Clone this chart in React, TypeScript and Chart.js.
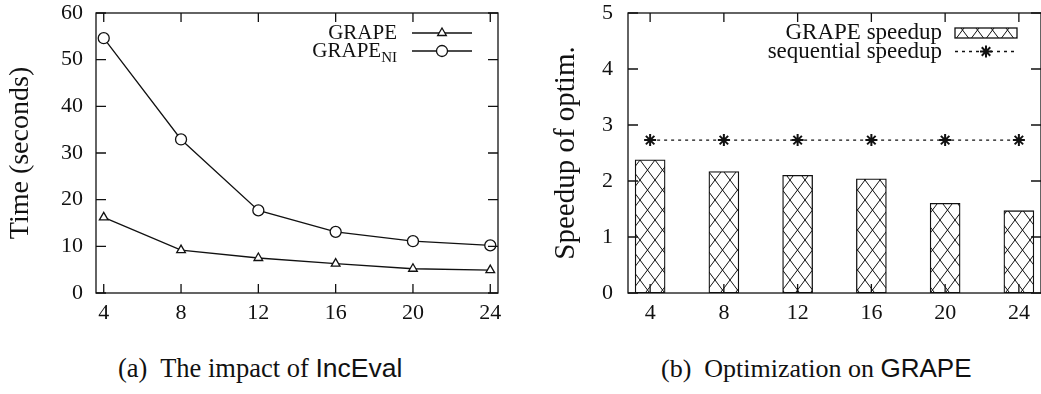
import React, { useEffect, useRef } from 'react';
import { Chart, registerables } from 'chart.js';
import { drawPoint } from 'chart.js/helpers';

Chart.register(...registerables);

// ---- data ----
const threads = [4, 8, 12, 16, 20, 24];
const grapeTime = [16.2, 9.2, 7.5, 6.3, 5.2, 4.9];
const grapeNITime = [54.6, 32.9, 17.7, 13.1, 11.1, 10.2];
const timeTicks = [0, 10, 20, 30, 40, 50, 60];
const grapeSpeedup = [2.38, 2.17, 2.1, 2.04, 1.6, 1.47];
const sequentialSpeedup = [2.73, 2.73, 2.73, 2.73, 2.73, 2.73];
const speedupTicks = [0, 1, 2, 3, 4, 5];
const timeSeriesNames = ['GRAPE', 'GRAPE_NI'];
const speedupSeriesNames = ['GRAPE speedup', 'sequential speedup'];

const SERIF = '"Liberation Serif", "Times New Roman", serif';
const SANS = '"Liberation Sans", Arial, sans-serif';
const INK = '#111';

function makeHatch(): CanvasPattern | string {
  const c = document.createElement('canvas');
  c.width = 15;
  c.height = 20;
  const g = c.getContext('2d');
  if (!g) return '#fff';
  g.fillStyle = '#fff';
  g.fillRect(0, 0, 15, 20);
  g.strokeStyle = INK;
  g.lineWidth = 1;
  g.beginPath();
  for (let k = -1; k <= 1; k++) {
    g.moveTo(k * 15, 0);
    g.lineTo(k * 15 + 15, 20);
    g.moveTo(k * 15 + 15, 0);
    g.lineTo(k * 15, 20);
  }
  g.stroke();
  return g.createPattern(c, 'repeat') || '#fff';
}

const framePlugin = {
  id: 'frame',
  afterDatasetsDraw(chart: any) {
    const { ctx, chartArea: a, scales } = chart;
    const xs = scales.x;
    const ys = scales.y;
    ctx.save();
    ctx.strokeStyle = INK;
    ctx.lineWidth = 1.3;
    ctx.beginPath();
    xs.ticks.forEach((t: any) => {
      const p = xs.getPixelForValue(t.value);
      ctx.moveTo(p, a.bottom);
      ctx.lineTo(p, a.bottom - 9);
      ctx.moveTo(p, a.top);
      ctx.lineTo(p, a.top + 9);
    });
    ys.ticks.forEach((t: any) => {
      const p = ys.getPixelForValue(t.value);
      ctx.moveTo(a.left, p);
      ctx.lineTo(a.left + 10, p);
      ctx.moveTo(a.right, p);
      ctx.lineTo(a.right - 10, p);
    });
    ctx.stroke();
    ctx.strokeRect(a.left, a.top, a.right - a.left, a.bottom - a.top);
    ctx.restore();
  },
};

const insideLegend = {
  id: 'insideLegend',
  afterDraw(chart: any, _args: any, opts: any) {
    const { ctx } = chart;
    ctx.save();
    chart.data.datasets.forEach((ds: any, i: number) => {
      const y = opts.rows[i];
      const parts = String(ds.label).split('_');
      const main = parts[0];
      const sub = parts[1];
      const mainFont = `${opts.size}px ${SERIF}`;
      const subFont = `${Math.round(opts.size * 0.72)}px ${SERIF}`;
      ctx.textBaseline = 'middle';
      ctx.textAlign = 'left';
      ctx.fillStyle = INK;
      ctx.font = mainFont;
      const wMain = ctx.measureText(main).width;
      let wSub = 0;
      if (sub) {
        ctx.font = subFont;
        wSub = ctx.measureText(sub).width;
      }
      const x0 = opts.textRight - wMain - wSub;
      ctx.font = mainFont;
      ctx.fillText(main, x0, y);
      if (sub) {
        ctx.font = subFont;
        ctx.fillText(sub, x0 + wMain, y + opts.size * 0.32);
      }
      if (ds.type === 'bar') {
        ctx.fillStyle = ds.backgroundColor;
        ctx.fillRect(opts.x1, y - 5, opts.x2 - opts.x1, 10);
        ctx.strokeStyle = ds.borderColor;
        ctx.lineWidth = ds.borderWidth;
        ctx.strokeRect(opts.x1, y - 5, opts.x2 - opts.x1, 10);
      } else {
        ctx.strokeStyle = ds.borderColor;
        ctx.lineWidth = ds.borderWidth;
        ctx.setLineDash(ds.borderDash || []);
        ctx.beginPath();
        ctx.moveTo(opts.x1, y);
        ctx.lineTo(opts.x2, y);
        ctx.stroke();
        ctx.setLineDash([]);
        ctx.fillStyle = ds.pointBackgroundColor;
        ctx.strokeStyle = ds.pointBorderColor;
        ctx.lineWidth = ds.pointBorderWidth;
        drawPoint(
          ctx,
          { pointStyle: ds.pointStyle, radius: ds.pointRadius, rotation: 0, borderWidth: ds.pointBorderWidth } as any,
          (opts.x1 + opts.x2) / 2,
          y
        );
      }
    });
    ctx.restore();
  },
};

const tickFont = { family: SERIF, size: 22 };

function xAxis(min: number, max: number): any {
  return {
    type: 'linear',
    min,
    max,
    offset: false,
    afterBuildTicks: (s: any) => {
      s.ticks = threads.map((v) => ({ value: v }));
    },
    afterFit: (s: any) => {
      s.height = 37;
      s.paddingLeft = 0;
      s.paddingRight = 0;
    },
    grid: { display: false, drawTicks: false },
    border: { display: false },
    ticks: { font: tickFont, color: INK, padding: 7, maxRotation: 0, autoSkip: false },
  };
}

function yAxis(min: number, max: number, tickVals: number[], width: number, pad: number, title: string, titleSize: number, titlePad: number): any {
  return {
    min,
    max,
    afterBuildTicks: (s: any) => {
      s.ticks = tickVals.map((v) => ({ value: v }));
    },
    afterFit: (s: any) => {
      s.width = width;
      s.paddingTop = 0;
      s.paddingBottom = 0;
    },
    grid: { display: false, drawTicks: false },
    border: { display: false },
    ticks: { font: tickFont, color: INK, padding: pad },
    title: {
      display: true,
      text: title,
      color: INK,
      font: { family: SERIF, size: titleSize },
      padding: { top: titlePad, bottom: 0 },
    },
  };
}

function timeConfig(): any {
  return {
    type: 'line',
    data: {
      datasets: [
        {
          label: timeSeriesNames[0],
          data: threads.map((t, i) => ({ x: t, y: grapeTime[i] })),
          borderColor: INK,
          borderWidth: 1.3,
          pointStyle: 'triangle',
          pointRadius: 5,
          pointBorderWidth: 1.3,
          pointBackgroundColor: '#fff',
          pointBorderColor: INK,
          tension: 0,
        },
        {
          label: timeSeriesNames[1],
          data: threads.map((t, i) => ({ x: t, y: grapeNITime[i] })),
          borderColor: INK,
          borderWidth: 1.3,
          pointStyle: 'circle',
          pointRadius: 5.5,
          pointBorderWidth: 1.3,
          pointBackgroundColor: '#fff',
          pointBorderColor: INK,
          tension: 0,
        },
      ],
    },
    options: {
      responsive: false,
      animation: false,
      devicePixelRatio: 1,
      events: [],
      layout: { padding: { left: 0, right: 22, top: 13, bottom: 0 } },
      plugins: {
        legend: { display: false },
        tooltip: { enabled: false },
        insideLegend: { rows: [33, 51], textRight: 397, x1: 412, x2: 472, size: 21 },
      },
      scales: {
        x: xAxis(3.6, 24.4),
        y: yAxis(0, 60, timeTicks, 96, 13, 'Time (seconds)', 28, 4),
      },
    },
    plugins: [framePlugin, insideLegend],
  };
}

function speedupConfig(): any {
  const hatch = makeHatch();
  return {
    type: 'bar',
    data: {
      datasets: [
        {
          type: 'bar',
          label: speedupSeriesNames[0],
          data: threads.map((t, i) => ({ x: t, y: grapeSpeedup[i] })),
          backgroundColor: hatch,
          borderColor: INK,
          borderWidth: 1.3,
          borderSkipped: false,
          barThickness: 30,
          order: 2,
        },
        {
          type: 'line',
          label: speedupSeriesNames[1],
          data: threads.map((t, i) => ({ x: t, y: sequentialSpeedup[i] })),
          borderColor: INK,
          borderWidth: 1.3,
          borderDash: [3, 4],
          pointStyle: 'star',
          pointRadius: 6,
          pointBorderWidth: 2,
          pointBackgroundColor: INK,
          pointBorderColor: INK,
          tension: 0,
          order: 1,
        },
      ],
    },
    options: {
      responsive: false,
      animation: false,
      devicePixelRatio: 1,
      events: [],
      layout: { padding: { left: 0, right: 9, top: 13, bottom: 0 } },
      plugins: {
        legend: { display: false },
        tooltip: { enabled: false },
        insideLegend: { rows: [33, 51.5], textRight: 422, x1: 435, x2: 497, size: 23 },
      },
      scales: {
        x: xAxis(2.8, 25.2),
        y: yAxis(0, 5, speedupTicks, 108, 15, 'Speedup of optim.', 29, 28.5),
      },
    },
    plugins: [framePlugin, insideLegend],
  };
}

function ChartCanvas(props: { width: number; height: number; left: number; make: () => any }) {
  const ref = useRef<HTMLCanvasElement | null>(null);
  useEffect(() => {
    if (!ref.current) return;
    const chart = new Chart(ref.current, props.make());
    return () => chart.destroy();
  }, []);
  return (
    <canvas
      ref={ref}
      width={props.width}
      height={props.height}
      style={{ position: 'absolute', left: props.left, top: 0, width: props.width, height: props.height }}
    />
  );
}

const captionStyle: React.CSSProperties = {
  position: 'absolute',
  top: 354,
  fontFamily: SERIF,
  fontSize: 26.5,
  lineHeight: '28px',
  color: INK,
  whiteSpace: 'nowrap',
};

export default function App() {
  return (
    <div
      style={{
        position: 'absolute',
        left: 0,
        top: 0,
        width: 1041,
        height: 394,
        overflow: 'hidden',
        background: '#fff',
      }}
    >
      <ChartCanvas width={520} height={330} left={0} make={timeConfig} />
      <ChartCanvas width={530} height={330} left={520} make={speedupConfig} />
      <div style={{ ...captionStyle, left: 118 }}>
        (a)&nbsp; The impact of <span style={{ fontFamily: SANS }}>IncEval</span>
      </div>
      <div style={{ ...captionStyle, left: 661, fontSize: 26 }}>
        (b)&nbsp; Optimization on <span style={{ fontFamily: SANS }}>GRAPE</span>
      </div>
    </div>
  );
}
